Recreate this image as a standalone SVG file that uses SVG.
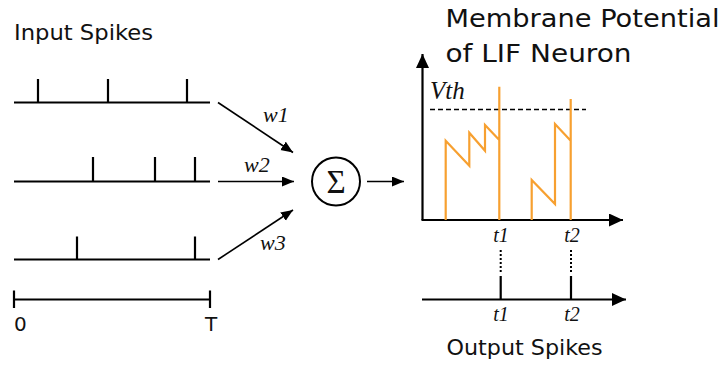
<svg xmlns="http://www.w3.org/2000/svg" width="721" height="365" viewBox="0 0 721 365">
<defs>
<style>
.ln{stroke:#000;stroke-width:2.2;fill:none}
.ln2{stroke:#000;stroke-width:1.6;fill:none}
.sans{font-family:"DejaVu Sans","Verdana",sans-serif;fill:#111}
.mi{font-family:"Liberation Serif","Times New Roman",serif;font-style:italic;fill:#111}
.v{stroke:#f7a030;stroke-width:2.2;fill:none;stroke-linejoin:miter}
</style>
<marker id="ah" markerUnits="userSpaceOnUse" markerWidth="14" markerHeight="12" refX="12" refY="5" orient="auto">
<path d="M0,0 L12,5 L0,10 Z" fill="#000"/>
</marker>
<marker id="ax" markerUnits="userSpaceOnUse" markerWidth="16" markerHeight="16" refX="14" refY="6.5" orient="auto">
<path d="M0,0 L14,6.5 L0,13 Z" fill="#000"/>
</marker>
</defs>
<rect width="721" height="365" fill="#fff"/>

<g id="input-spikes">
<text class="sans" x="14" y="40" font-size="21" textLength="139" lengthAdjust="spacingAndGlyphs">Input Spikes</text>
<path class="ln" d="M14,102.5 H210 M38,79 V102.5 M108,79 V102.5 M187,79 V102.5"/>
<path class="ln" d="M14,181.5 H210 M93,157 V181.5 M155,157 V181.5 M195,157 V181.5"/>
<path class="ln" d="M14,259.5 H210 M77,236.5 V259.5 M195,236.5 V259.5"/>
<path class="ln" d="M14,299.5 H210 M14,290.5 V308 M210,290.5 V308"/>
<text class="sans" x="14" y="331" font-size="20">0</text>
<text class="sans" x="211" y="331" font-size="20" text-anchor="middle">T</text>
</g>

<g id="sum">
<circle cx="336" cy="181.5" r="24" fill="none" stroke="#000" stroke-width="2"/>
<text x="336" y="193" font-family="Liberation Serif, serif" font-size="33" text-anchor="middle" fill="#111">Σ</text>
</g>

<g id="connectors">
<line class="ln2" x1="218" y1="102.5" x2="293" y2="152.5" marker-end="url(#ah)"/>
<line class="ln2" x1="218" y1="181.5" x2="294" y2="181.5" marker-end="url(#ah)"/>
<line class="ln2" x1="218" y1="259.5" x2="293" y2="210" marker-end="url(#ah)"/>
<line class="ln2" x1="367" y1="181.5" x2="404" y2="181.5" marker-end="url(#ah)"/>
<text class="mi" x="263" y="122" font-size="22">w1</text>
<text class="mi" x="244" y="172" font-size="22">w2</text>
<text class="mi" x="260" y="250" font-size="22">w3</text>
</g>

<g id="membrane-plot">
<text class="sans" x="445.5" y="27" font-size="24" textLength="274" lengthAdjust="spacingAndGlyphs">Membrane Potential</text>
<text class="sans" x="445.5" y="62" font-size="24" textLength="186" lengthAdjust="spacingAndGlyphs">of LIF Neuron</text>
<line class="ln" x1="422.5" y1="220" x2="422.5" y2="54" marker-end="url(#ax)"/>
<line class="ln" x1="421.5" y1="220" x2="623" y2="220" marker-end="url(#ax)"/>
<text class="mi" x="430" y="99" font-size="25">Vth</text>
<line x1="430" y1="109.5" x2="586" y2="109.5" stroke="#000" stroke-width="1.4" stroke-dasharray="5,3"/>
<path class="v" d="M445.7,220 V140.7 L469.3,165.7 V132.7 L485,150.7 V125 L499.3,140 V86.7 V220"/>
<path class="v" d="M531.7,220 V180 L555,204 V124 L570.7,140.7 V99 V220"/>
<text class="mi" x="501" y="242" font-size="20" text-anchor="middle">t1</text>
<text class="mi" x="572" y="242" font-size="20" text-anchor="middle">t2</text>
</g>

<g id="output-spikes">
<path d="M500.7,250 V272 M571,250 V272" stroke="#000" stroke-width="2" stroke-dasharray="2,2" fill="none"/>
<line class="ln" x1="422" y1="299.5" x2="626" y2="299.5" marker-end="url(#ax)"/>
<path class="ln" d="M500.7,276 V299.5 M571,276 V299.5"/>
<text class="mi" x="501" y="321" font-size="20" text-anchor="middle">t1</text>
<text class="mi" x="572" y="321" font-size="20" text-anchor="middle">t2</text>
<text class="sans" x="446.5" y="355" font-size="21" textLength="156" lengthAdjust="spacingAndGlyphs">Output Spikes</text>
</g>
</svg>
